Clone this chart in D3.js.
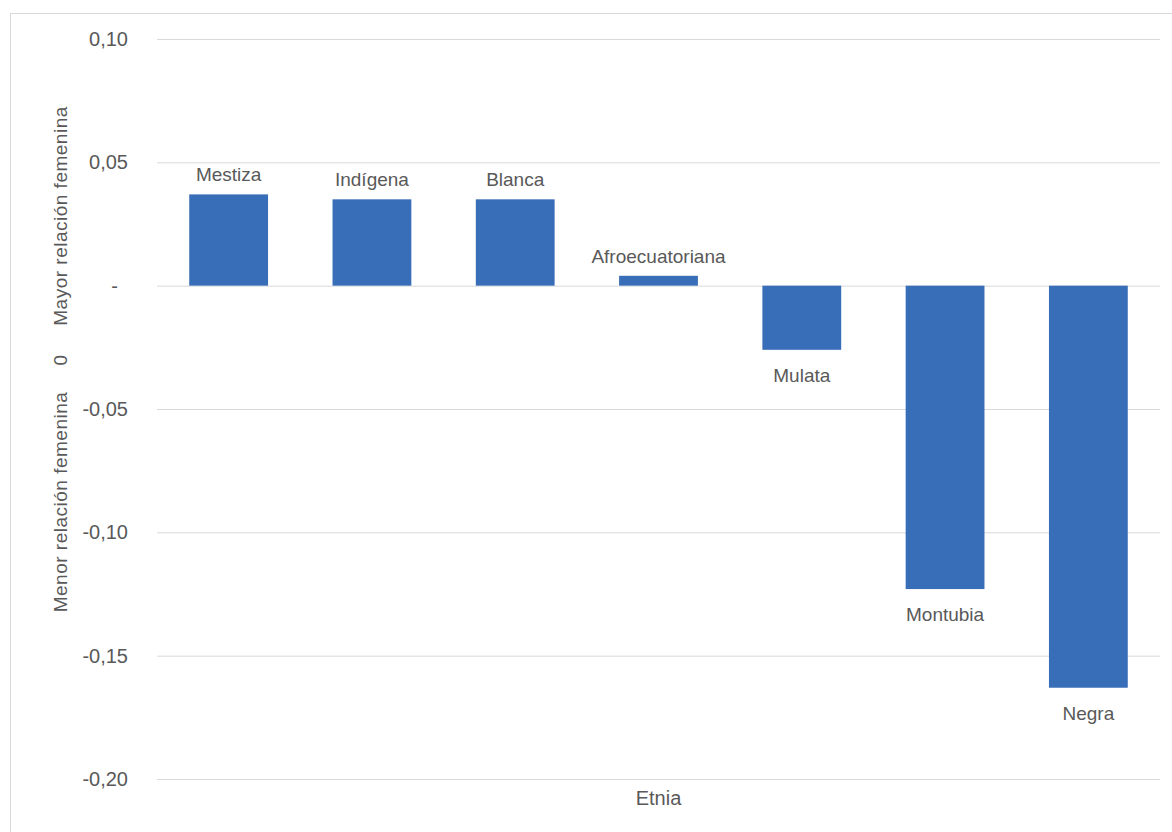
<!DOCTYPE html>
<html>
<head>
<meta charset="utf-8">
<script src="https://cdn.jsdelivr.net/npm/d3@7"></script>
<style>
  body { margin: 0; background: #fff; }
  text { font-family: Arial, "Liberation Sans", sans-serif; fill: #595959; }
</style>
</head>
<body>
<svg id="chart"></svg>
<script>
const etnias = ["Mestiza", "Indígena", "Blanca", "Afroecuatoriana", "Mulata", "Montubia", "Negra"];
const valores = [0.037, 0.035, 0.035, 0.004, -0.026, -0.123, -0.163];
const ticks = [0.10, 0.05, 0, -0.05, -0.10, -0.15, -0.20];

const width = 1172;
const height = 832;
const margin = {top: 39, left: 157, bottom: 53, right: 12};

const svg = d3.select("#chart")
    .attr("width", width)
    .attr("height", height);

// chart frame
svg.append("rect")
    .attr("x", 10.5).attr("y", 13.5)
    .attr("width", width + 20).attr("height", height + 20)
    .attr("fill", "none").attr("stroke", "#d9d9d9");

const x = d3.scaleBand()
    .domain(etnias)
    .range([margin.left, width - margin.right])
    .paddingInner(0.45)
    .paddingOuter(0.225);

const y = d3.scaleLinear()
    .domain([-0.20, 0.10])
    .range([height - margin.bottom, margin.top]);

const fmt = d => d === 0 ? "-" : d3.format(".2f")(d).replace(".", ",").replace("−", "-");

// grid + tick labels
const yAxis = g => g
    .attr("transform", `translate(${margin.left},0)`)
    .call(d3.axisLeft(y).tickValues(ticks).tickFormat(fmt)
        .tickSize(-(width - margin.left - margin.right)).tickPadding(29))
    .call(g => g.select(".domain").remove())
    .call(g => g.selectAll(".tick line").attr("stroke", "#d9d9d9"))
    .call(g => g.selectAll(".tick text")
        .attr("font-size", 20)
        .style("fill", "#595959")
        .attr("font-family", "Arial, 'Liberation Sans', sans-serif")
        .attr("dx", (d) => d === 0 ? -10 : 0));

svg.append("g").call(yAxis);

// bars
svg.append("g")
    .selectAll("rect")
    .data(valores)
    .join("rect")
    .attr("x", (d, i) => x(etnias[i]))
    .attr("y", d => y(Math.max(0, d)))
    .attr("width", x.bandwidth())
    .attr("height", d => Math.abs(y(d) - y(0)))
    .attr("fill", "#386db8");

// category labels
svg.append("g")
    .selectAll("text")
    .data(valores)
    .join("text")
    .attr("x", (d, i) => x(etnias[i]) + x.bandwidth() / 2)
    .attr("y", d => d >= 0 ? y(d) - 13 : y(d) + 32)
    .attr("text-anchor", "middle")
    .attr("font-size", 19)
    .text((d, i) => etnias[i]);

// axis titles
svg.append("text")
    .attr("x", (margin.left + width - margin.right) / 2)
    .attr("y", 805)
    .attr("text-anchor", "middle")
    .attr("font-size", 20)
    .text("Etnia");

const yTitle = [
  {t: "Mayor relación femenina", pos: 216},
  {t: "0", pos: 360},
  {t: "Menor relación femenina", pos: 502}
];
svg.append("g")
    .selectAll("text")
    .data(yTitle)
    .join("text")
    .attr("transform", d => `translate(67,${d.pos}) rotate(-90)`)
    .attr("text-anchor", "middle")
    .attr("font-size", 19)
    .attr("letter-spacing", 0.5)
    .text(d => d.t);
</script>
</body>
</html>
